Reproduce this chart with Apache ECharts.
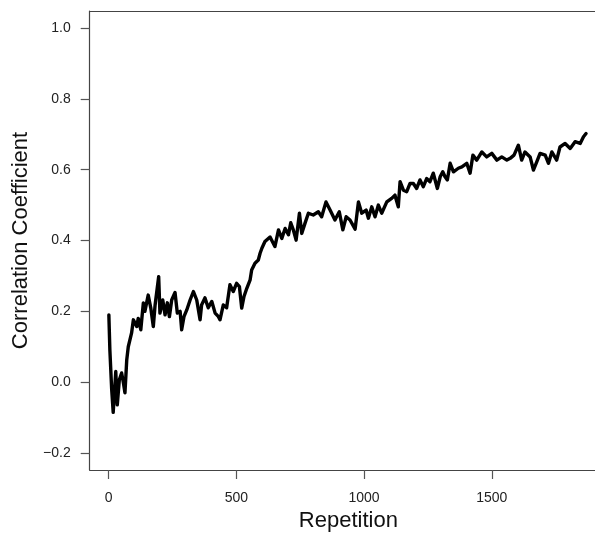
<!DOCTYPE html>
<html>
<head>
<meta charset="utf-8">
<script src="https://cdn.jsdelivr.net/npm/echarts@6/dist/echarts.min.js"></script>
<style>
html,body{margin:0;padding:0;background:#fff;}
#chart{width:595px;height:545px;}
</style>
</head>
<body>
<div id="chart"></div>
<script>
// Data
var repetition = [1,5,12,18,28,34,42,51,58,64,71,77,90,97,110,116,126,136,142,155,165,175,182,196,201,212,221,230,238,247,260,269,280,286,295,306,319,332,345,358,364,377,390,404,417,430,436,449,462,475,488,501,512,521,530,541,554,560,567,573,580,586,593,600,612,632,651,665,678,691,704,713,723,734,747,756,769,782,801,821,834,851,867,886,903,917,930,945,965,978,991,1008,1017,1030,1043,1056,1069,1089,1108,1121,1134,1141,1154,1167,1180,1193,1206,1219,1232,1245,1258,1271,1287,1298,1308,1317,1326,1337,1350,1369,1383,1402,1415,1426,1441,1461,1480,1500,1520,1539,1559,1572,1587,1604,1617,1630,1650,1663,1676,1689,1709,1722,1735,1754,1767,1787,1807,1826,1846,1859,1869];
var correlation = [0.19,0.09,-0.02,-0.085,0.03,-0.064,0.007,0.026,-0.002,-0.03,0.063,0.10,0.139,0.176,0.157,0.18,0.148,0.224,0.20,0.246,0.21,0.157,0.218,0.298,0.195,0.232,0.19,0.224,0.185,0.232,0.253,0.195,0.20,0.148,0.185,0.204,0.232,0.256,0.232,0.176,0.218,0.238,0.21,0.228,0.195,0.185,0.176,0.218,0.21,0.275,0.256,0.279,0.27,0.209,0.242,0.265,0.289,0.317,0.322,0.336,0.34,0.345,0.364,0.378,0.397,0.41,0.383,0.43,0.406,0.434,0.416,0.45,0.43,0.401,0.477,0.42,0.449,0.477,0.472,0.481,0.467,0.509,0.486,0.458,0.481,0.43,0.467,0.458,0.432,0.509,0.477,0.486,0.463,0.495,0.467,0.5,0.477,0.509,0.519,0.528,0.495,0.566,0.542,0.538,0.561,0.561,0.547,0.571,0.552,0.575,0.566,0.59,0.547,0.58,0.594,0.58,0.571,0.618,0.594,0.604,0.608,0.618,0.59,0.641,0.627,0.65,0.636,0.646,0.627,0.636,0.627,0.632,0.641,0.669,0.627,0.65,0.636,0.599,0.622,0.646,0.641,0.618,0.65,0.627,0.664,0.674,0.66,0.679,0.674,0.693,0.702];
var xTicks = [0, 500, 1000, 1500];
var yTicks = [-0.2, 0.0, 0.2, 0.4, 0.6, 0.8, 1.0];

var seriesData = repetition.map(function (x, i) { return [x, correlation[i]]; });

var chart = echarts.init(document.getElementById('chart'), null, {renderer: 'canvas'});
var font = '"Liberation Sans", Arial, Helvetica, sans-serif';
var boxLine = {show: true, onZero: false, lineStyle: {color: '#444', width: 1.2}};
chart.setOption({
  animation: false,
  backgroundColor: '#ffffff',
  grid: {
    left: 89.7, top: 11, right: -12, bottom: 75,
    outerBoundsMode: 'none', containLabel: false,
    show: false
  },
  xAxis: [{
    type: 'value',
    position: 'bottom',
    min: -74, max: 1951,
    name: 'Repetition',
    nameLocation: 'middle',
    nameGap: 37,
    nameTextStyle: {fontFamily: font, fontSize: 22, color: '#111'},
    axisLine: boxLine,
    splitLine: {show: false},
    axisTick: {show: true, inside: false, length: 9, customValues: xTicks, lineStyle: {color: '#555', width: 1.2}},
    axisLabel: {customValues: xTicks, margin: 21, fontFamily: font, fontSize: 14, color: '#222',
      formatter: function (v) { return String(v); }}
  }, {
    type: 'value',
    position: 'top',
    min: -74, max: 1951,
    axisLine: boxLine,
    axisTick: {show: false},
    axisLabel: {show: false},
    splitLine: {show: false}
  }],
  yAxis: {
    type: 'value',
    position: 'left',
    min: -0.248, max: 1.048,
    name: 'Correlation Coefficient',
    nameLocation: 'middle',
    nameGap: 52,
    nameRotate: 90,
    nameTextStyle: {fontFamily: font, fontSize: 22, color: '#111'},
    axisLine: boxLine,
    splitLine: {show: false},
    axisTick: {show: true, inside: false, length: 9, customValues: yTicks, lineStyle: {color: '#555', width: 1.2}},
    axisLabel: {customValues: yTicks, margin: 19, fontFamily: font, fontSize: 14, color: '#222',
      formatter: function (v) { var s = Math.abs(v).toFixed(1); return v < -1e-9 ? '\u2212' + s : s; }}
  },
  series: [{
    type: 'line',
    xAxisIndex: 0,
    data: seriesData,
    showSymbol: false,
    symbol: 'none',
    lineStyle: {color: '#000', width: 3.4, join: 'round', cap: 'round'},
    clip: true
  }]
});
</script>
</body>
</html>
